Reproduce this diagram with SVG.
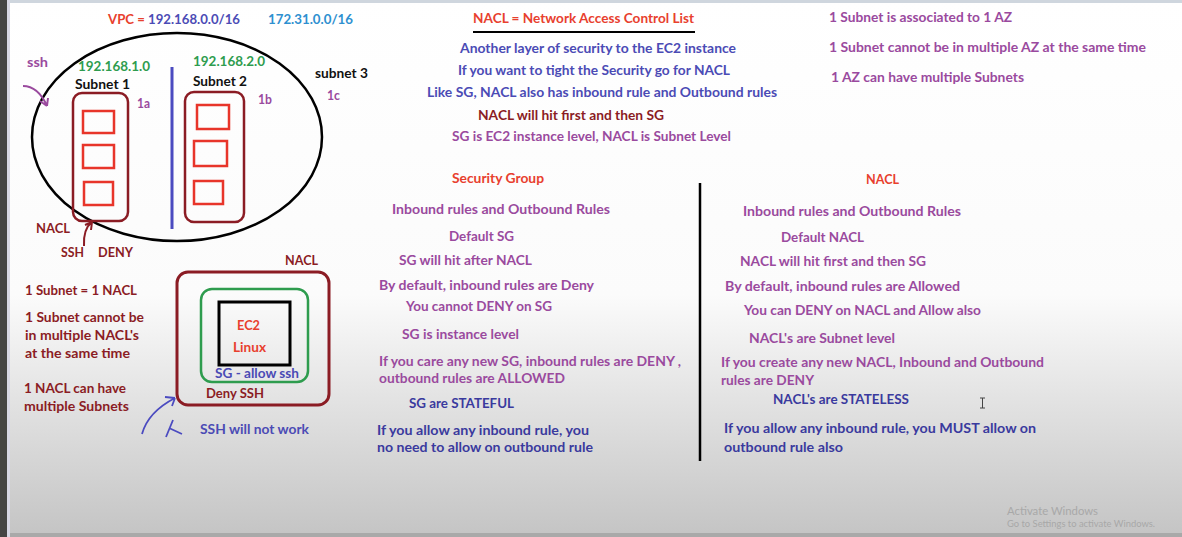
<svg xmlns="http://www.w3.org/2000/svg" width="1182" height="537" viewBox="0 0 1182 537">
<defs>
<linearGradient id="bg" x1="0" y1="0" x2="0" y2="1">
<stop offset="0" stop-color="#ffffff"/>
<stop offset="0.55" stop-color="#fbfbfb"/>
<stop offset="0.75" stop-color="#e2e2e2"/>
<stop offset="1" stop-color="#c4c4c4"/>
</linearGradient>
<style>
text{font-family:Lato,"Liberation Sans",sans-serif;font-weight:700;font-size:14px}
.r{fill:#e8402e}.b{fill:#4b4bb5}.dr{fill:#8b1c24}.p{fill:#9a4a9e}.db{fill:#3a3a9e}.g{fill:#2e9c4e}.lb{fill:#2e90d0}.k{fill:#111}
.sub{fill:none;stroke:#8b1c24;stroke-width:2.5}
.inst{fill:none;stroke:#e8352a;stroke-width:2.5}
.wm{fill:#a8a8a8;font-weight:400}
</style>
</defs>
<rect width="1182" height="537" fill="url(#bg)"/>
<rect x="0" y="0" width="1182" height="3" fill="#cfd6de"/>
<rect x="0" y="0" width="7" height="537" fill="#444"/>
<rect x="7" y="0" width="3" height="537" fill="#d6d6e4"/>
<rect x="10" y="533" width="1172" height="4" fill="#a9a9a9"/>

<g id="top-text">
<text x="108" y="24" textLength="132" lengthAdjust="spacingAndGlyphs"><tspan class="r">VPC = </tspan><tspan class="b">192.168.0.0/16</tspan></text>
<text class="lb" x="268" y="24" textLength="85" lengthAdjust="spacingAndGlyphs">172.31.0.0/16</text>
<text class="r" x="473" y="23" textLength="221" lengthAdjust="spacingAndGlyphs">NACL = Network Access Control List</text>
<line x1="473" y1="32" x2="695" y2="32" stroke="#000" stroke-width="2"/>
<text class="b" x="460" y="53" textLength="276" lengthAdjust="spacingAndGlyphs">Another layer of security to the EC2 instance</text>
<text class="b" x="458" y="75" textLength="272" lengthAdjust="spacingAndGlyphs">If you want to tight the Security go for NACL</text>
<text class="b" x="427" y="97" textLength="350" lengthAdjust="spacingAndGlyphs">Like SG, NACL also has inbound rule and Outbound rules</text>
<text class="dr" x="478" y="120" textLength="186" lengthAdjust="spacingAndGlyphs">NACL will hit first and then SG</text>
<text class="p" x="452" y="141" textLength="279" lengthAdjust="spacingAndGlyphs">SG is EC2 instance level, NACL is Subnet Level</text>
<text class="p" x="829" y="22" textLength="183" lengthAdjust="spacingAndGlyphs">1 Subnet is associated to 1 AZ</text>
<text class="p" x="829" y="52" textLength="317" lengthAdjust="spacingAndGlyphs">1 Subnet cannot be in multiple AZ at the same time</text>
<text class="p" x="831" y="82" textLength="193" lengthAdjust="spacingAndGlyphs">1 AZ can have multiple Subnets</text>
</g>

<g id="vpc">
<ellipse cx="177" cy="137" rx="145" ry="104" fill="none" stroke="#000" stroke-width="2.5"/>
<line x1="172" y1="67" x2="172" y2="229" stroke="#4b4bc0" stroke-width="3"/>
<text class="p" x="27" y="67" textLength="21" lengthAdjust="spacingAndGlyphs">ssh</text>
<path d="M23 86 Q38 86 47 106 M47 106 L40 101 M47 106 L48 98" fill="none" stroke="#9a4a9e" stroke-width="2"/>
<text class="k" x="315" y="78" textLength="53" lengthAdjust="spacingAndGlyphs">subnet 3</text>
<text class="p" x="327" y="100" textLength="13" lengthAdjust="spacingAndGlyphs">1c</text>
</g>

<g id="subnet1">
<text class="g" x="78" y="71" textLength="72" lengthAdjust="spacingAndGlyphs">192.168.1.0</text>
<text class="k" x="75" y="89" textLength="55" lengthAdjust="spacingAndGlyphs">Subnet 1</text>
<text class="p" x="137" y="108" textLength="13" lengthAdjust="spacingAndGlyphs">1a</text>
<rect class="sub" x="73" y="93" width="55" height="128" rx="9"/>
<rect class="inst" x="83" y="111" width="31" height="22"/>
<rect class="inst" x="83" y="145" width="31" height="23"/>
<rect class="inst" x="84" y="182" width="29" height="23"/>
</g>

<g id="subnet2">
<text class="g" x="193" y="66" textLength="72" lengthAdjust="spacingAndGlyphs">192.168.2.0</text>
<text class="k" x="193" y="86" textLength="54" lengthAdjust="spacingAndGlyphs">Subnet 2</text>
<text class="p" x="258" y="104" textLength="14" lengthAdjust="spacingAndGlyphs">1b</text>
<rect class="sub" x="185" y="92" width="59" height="130" rx="9"/>
<rect class="inst" x="197" y="105" width="32" height="24"/>
<rect class="inst" x="194" y="141" width="33" height="25"/>
<rect class="inst" x="194" y="181" width="29" height="23"/>
</g>

<g id="nacl-note">
<text class="dr" x="36" y="233" textLength="34" lengthAdjust="spacingAndGlyphs">NACL</text>
<path d="M84 246 Q83 229 92 222 M92 222 L85 225 M92 222 L91 230" fill="none" stroke="#8b1c24" stroke-width="2"/>
<text class="dr" x="61" y="257" textLength="23" lengthAdjust="spacingAndGlyphs">SSH</text>
<text class="dr" x="98" y="257" textLength="35" lengthAdjust="spacingAndGlyphs">DENY</text>
<text class="dr" x="25" y="295" textLength="112" lengthAdjust="spacingAndGlyphs">1 Subnet = 1 NACL</text>
<text class="dr" x="25" y="322" textLength="119" lengthAdjust="spacingAndGlyphs">1 Subnet cannot be</text>
<text class="dr" x="25" y="340" textLength="114" lengthAdjust="spacingAndGlyphs">in multiple NACL's</text>
<text class="dr" x="25" y="358" textLength="105" lengthAdjust="spacingAndGlyphs">at the same time</text>
<text class="dr" x="24" y="393" textLength="102" lengthAdjust="spacingAndGlyphs">1 NACL can have</text>
<text class="dr" x="24" y="411" textLength="105" lengthAdjust="spacingAndGlyphs">multiple Subnets</text>
</g>

<g id="nacl-box">
<text class="dr" x="285" y="265" textLength="33" lengthAdjust="spacingAndGlyphs">NACL</text>
<rect x="177" y="272" width="152" height="133" rx="11" fill="none" stroke="#8b1c24" stroke-width="3"/>
<text class="dr" x="206" y="398" textLength="58" lengthAdjust="spacingAndGlyphs">Deny SSH</text>
</g>
<g id="sg-box">
<rect x="201" y="289" width="107" height="93" rx="11" fill="none" stroke="#2e9c4e" stroke-width="2.5"/>
<text class="b" x="215" y="378" textLength="84" lengthAdjust="spacingAndGlyphs">SG - allow ssh</text>
</g>
<g id="ec2">
<rect x="219" y="302" width="71" height="63" fill="none" stroke="#000" stroke-width="3"/>
<text class="r" x="237" y="330" textLength="23" lengthAdjust="spacingAndGlyphs">EC2</text>
<text class="r" x="233" y="352" textLength="33" lengthAdjust="spacingAndGlyphs">Linux</text>
</g>
<g id="ssh-attempt">
<path d="M142 434 Q148 412 175 398 M175 398 L165 397 M175 398 L172 406" fill="none" stroke="#4b4bc0" stroke-width="1.8"/>
<path d="M166 437 L173 420 M169 428 L182 434" fill="none" stroke="#4b4bc0" stroke-width="1.8"/>
<text class="b" x="200" y="434" textLength="109" lengthAdjust="spacingAndGlyphs">SSH will not work</text>
</g>

<g id="sg-column">
<text class="r" x="452" y="183" textLength="92" lengthAdjust="spacingAndGlyphs">Security Group</text>
<text class="p" x="392" y="214" textLength="218" lengthAdjust="spacingAndGlyphs">Inbound rules and Outbound Rules</text>
<text class="p" x="449" y="241" textLength="65" lengthAdjust="spacingAndGlyphs">Default SG</text>
<text class="p" x="399" y="265" textLength="133" lengthAdjust="spacingAndGlyphs">SG will hit after NACL</text>
<text class="p" x="379" y="290" textLength="215" lengthAdjust="spacingAndGlyphs">By default, inbound rules are Deny</text>
<text class="p" x="406" y="311" textLength="146" lengthAdjust="spacingAndGlyphs">You cannot DENY on SG</text>
<text class="p" x="402" y="339" textLength="117" lengthAdjust="spacingAndGlyphs">SG is instance level</text>
<text class="p" x="379" y="366" textLength="302" lengthAdjust="spacingAndGlyphs">If you care any new SG, inbound rules are DENY ,</text>
<text class="p" x="379" y="383" textLength="186" lengthAdjust="spacingAndGlyphs">outbound rules are ALLOWED</text>
<text class="db" x="409" y="408" textLength="105" lengthAdjust="spacingAndGlyphs">SG are STATEFUL</text>
<text class="db" x="377" y="435" textLength="212" lengthAdjust="spacingAndGlyphs">If you allow any inbound rule, you</text>
<text class="db" x="377" y="452" textLength="216" lengthAdjust="spacingAndGlyphs">no need to allow on outbound rule</text>
</g>

<line x1="700" y1="183" x2="700" y2="461" stroke="#000" stroke-width="2.5"/>

<g id="nacl-column">
<text class="r" x="866" y="184" textLength="33" lengthAdjust="spacingAndGlyphs">NACL</text>
<text class="p" x="743" y="216" textLength="218" lengthAdjust="spacingAndGlyphs">Inbound rules and Outbound Rules</text>
<text class="p" x="781" y="242" textLength="83" lengthAdjust="spacingAndGlyphs">Default NACL</text>
<text class="p" x="740" y="266" textLength="186" lengthAdjust="spacingAndGlyphs">NACL will hit first and then SG</text>
<text class="p" x="725" y="291" textLength="235" lengthAdjust="spacingAndGlyphs">By default, inbound rules are Allowed</text>
<text class="p" x="744" y="315" textLength="237" lengthAdjust="spacingAndGlyphs">You can DENY on NACL and Allow also</text>
<text class="p" x="749" y="343" textLength="146" lengthAdjust="spacingAndGlyphs">NACL's are Subnet level</text>
<text class="p" x="721" y="367" textLength="323" lengthAdjust="spacingAndGlyphs">If you create any new NACL, Inbound and Outbound</text>
<text class="p" x="721" y="385" textLength="93" lengthAdjust="spacingAndGlyphs">rules are DENY</text>
<text class="db" x="773" y="404" textLength="136" lengthAdjust="spacingAndGlyphs">NACL's are STATELESS</text>
<text class="db" x="724" y="433" textLength="312" lengthAdjust="spacingAndGlyphs">If you allow any inbound rule, you MUST  allow on</text>
<text class="db" x="724" y="452" textLength="119" lengthAdjust="spacingAndGlyphs">outbound rule also</text>
</g>

<path d="M980 398 H985 M982.5 398 V408 M980 408 H985" fill="none" stroke="#444" stroke-width="1"/>

<g id="watermark">
<text class="wm" x="1007" y="515" font-size="11" style="font-size:11px" textLength="91" lengthAdjust="spacingAndGlyphs">Activate Windows</text>
<text class="wm" x="1007" y="527" style="font-size:8.5px" textLength="148" lengthAdjust="spacingAndGlyphs">Go to Settings to activate Windows.</text>
</g>
</svg>
